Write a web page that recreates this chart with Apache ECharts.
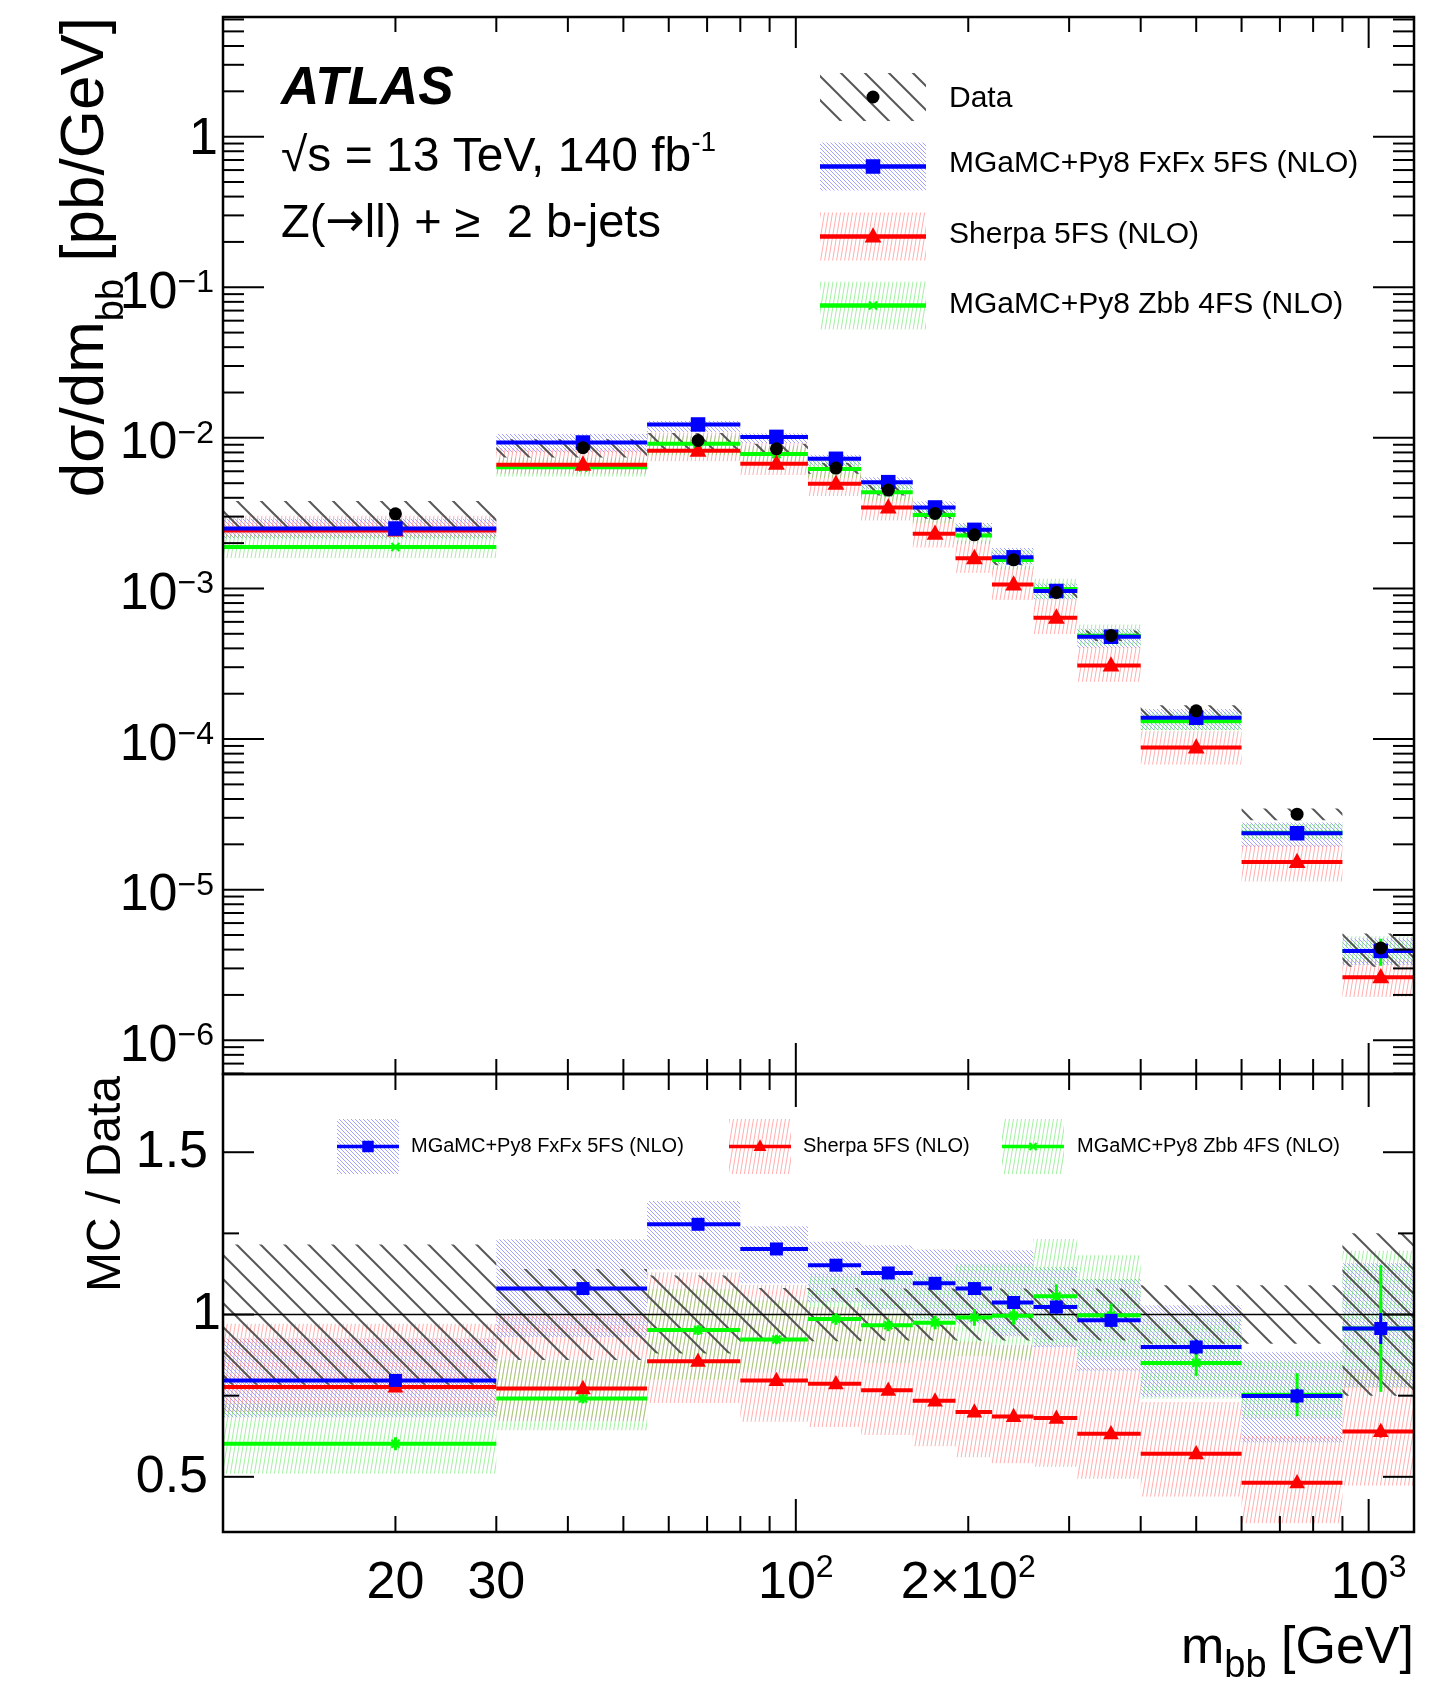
<!DOCTYPE html>
<html>
<head>
<meta charset="utf-8">
<title>Z(→ll) + ≥ 2 b-jets: dσ/dm_bb</title>
<script src="https://cdn.jsdelivr.net/npm/echarts@6/dist/echarts.min.js"></script>
<style>
  html, body { margin: 0; padding: 0; background: #ffffff; }
  #chart { width: 1450px; height: 1684px; }
</style>
</head>
<body>
<div id="chart"></div>
<script>
// ---------------- binning and measured / predicted values ----------------
const binEdges = [10, 30, 55, 80, 105, 130, 160, 190, 220, 260, 310, 400, 600, 900, 1200];

// Unfolded data, dσ/dm_bb [pb/GeV], with total relative uncertainty
const dataXsec   = [3.13e-3, 8.60e-3, 9.60e-3, 8.45e-3, 6.30e-3, 4.50e-3, 3.15e-3, 2.27e-3, 1.55e-3, 9.40e-4, 4.87e-4, 1.54e-4, 3.17e-5, 4.10e-6];
const dataRelUnc = [0.216, 0.14, 0.12, 0.082, 0.082, 0.08, 0.08, 0.08, 0.08, 0.08, 0.08, 0.09, 0.09, 0.25];

// MGaMC+Py8 FxFx 5FS (NLO)
const fxfxXsec  = [2.50e-3, 9.31e-3, 1.227e-2, 1.015e-2, 7.26e-3, 5.08e-3, 3.45e-3, 2.45e-3, 1.61e-3, 9.62e-4, 4.78e-4, 1.386e-4, 2.37e-5, 3.92e-6];
const fxfxRatio = [0.797, 1.080, 1.278, 1.202, 1.152, 1.128, 1.096, 1.080, 1.037, 1.023, 0.982, 0.900, 0.749, 0.957];
const fxfxUp    = [0.162, 0.141, 0.056, 0.058, 0.063, 0.076, 0.095, 0.110, 0.155, 0.120, 0.130, 0.143, 0.180, 0.210];
const fxfxDown  = [0.142, 0.138, 0.109, 0.088, 0.100, 0.100, 0.100, 0.100, 0.100, 0.120, 0.157, 0.170, 0.190, 0.190];
const fxfxStat  = [0.008, 0.008, 0.008, 0.008, 0.010, 0.010, 0.012, 0.015, 0.015, 0.020, 0.020, 0.025, 0.030, 0.050];

// Sherpa 5FS (NLO)
const sherpaXsec  = [2.43e-3, 6.64e-3, 8.22e-3, 6.74e-3, 4.96e-3, 3.45e-3, 2.31e-3, 1.59e-3, 1.063e-3, 6.40e-4, 3.08e-4, 8.79e-5, 1.528e-5, 2.62e-6];
const sherpaRatio = [0.777, 0.772, 0.856, 0.797, 0.787, 0.767, 0.734, 0.700, 0.686, 0.681, 0.633, 0.571, 0.482, 0.640];
const sherpaUp    = [0.25, 0.29, 0.32, 0.37, 0.30, 0.30, 0.31, 0.31, 0.32, 0.33, 0.32, 0.28, 0.30, 0.30];
const sherpaDown  = [0.10, 0.13, 0.15, 0.16, 0.17, 0.18, 0.19, 0.20, 0.21, 0.22, 0.22, 0.23, 0.26, 0.26];
const sherpaStat  = [0.004, 0.004, 0.004, 0.004, 0.005, 0.005, 0.006, 0.006, 0.007, 0.008, 0.010, 0.012, 0.020, 0.030];

// MGaMC+Py8 Zbb 4FS (NLO)
const zbbXsec  = [1.884e-3, 6.37e-3, 9.14e-3, 7.80e-3, 6.21e-3, 4.35e-3, 3.07e-3, 2.25e-3, 1.544e-3, 9.93e-4, 4.86e-4, 1.311e-4, 2.39e-5, 3.92e-6];
const zbbRatio = [0.602, 0.741, 0.952, 0.923, 0.986, 0.967, 0.975, 0.991, 0.996, 1.056, 0.998, 0.851, 0.753, 0.957];
const zbbUp    = [0.206, 0.159, 0.134, 0.131, 0.142, 0.150, 0.155, 0.167, 0.162, 0.167, 0.185, 0.160, 0.140, 0.250];
const zbbDown  = [0.153, 0.132, 0.160, 0.110, 0.124, 0.120, 0.120, 0.120, 0.138, 0.143, 0.140, 0.130, 0.100, 0.190];
const zbbStat  = [0.033, 0.020, 0.016, 0.016, 0.018, 0.019, 0.021, 0.026, 0.027, 0.035, 0.036, 0.047, 0.088, 0.204];

// Axis ticks and labels
const xMajorTicks = [100, 1000];
const xMinorTicks = [20, 30, 40, 50, 60, 70, 80, 90, 200, 300, 400, 500, 600, 700, 800, 900];
const xTickValues = [20, 30, 100, 200, 1000];
const xTickLabels = ['20', '30', '10^2', '2×10^2', '10^3'];
const yTickValues = [1e-6, 1e-5, 1e-4, 1e-3, 1e-2, 1e-1, 1];
const yTickLabels = ['10^−6', '10^−5', '10^−4', '10^−3', '10^−2', '10^−1', '1'];
const ratioMajorTicks = [0.5, 1, 1.5];
const ratioMinorTicks = [0.75, 1.25];
const ratioTickLabels = ['0.5', '1', '1.5'];

const legendLabels = ['Data', 'MGaMC+Py8 FxFx 5FS (NLO)', 'Sherpa 5FS (NLO)', 'MGaMC+Py8 Zbb 4FS (NLO)'];

// Axis ranges
const X_MIN = 10, X_MAX = 1200;
const Y_MIN = 5.97e-7, Y_MAX = 6.23;
const R_MIN = 0.33, R_MAX = 1.741;

// ---------------- styling helpers ----------------
const FONT = '"Liberation Sans", Arial, Helvetica, sans-serif';
const BLUE = '#0000ff', RED = '#ff0000', GREEN = '#00ff00', BLACK = '#000000';

function hatchPattern(w, h, color, width, segs) {
  const c = document.createElement('canvas');
  c.width = w; c.height = h;
  const g = c.getContext('2d');
  g.strokeStyle = color; g.lineWidth = width;
  g.beginPath();
  segs.forEach(s => { g.moveTo(s[0], s[1]); g.lineTo(s[2], s[3]); });
  g.stroke();
  return { image: c, repeat: 'repeat' };
}
// lines running from upper-left to lower-right
function backHatch(s, color, width) {
  const segs = [];
  [-s, 0, s].forEach(o => segs.push([-2, -2 + o, s + 2, s + 2 + o]));
  return hatchPattern(s, s, color, width, segs);
}
// almost vertical lines, leaning slightly right
function steepHatch(w, h, color, width) {
  const segs = [];
  [-w, 0, w].forEach(o => segs.push([o - 0.1 * w, h + 0.1 * h, o + 1.1 * w, -0.1 * h]));
  return hatchPattern(w, h, color, width, segs);
}

const dataFill   = backHatch(24, 'rgba(70,70,70,0.9)', 2);
const fxfxFill   = backHatch(4, 'rgba(90,90,255,0.55)', 1);
const sherpaFill = steepHatch(4, 24, 'rgba(255,110,110,0.55)', 1);
const zbbFill    = steepHatch(4, 24, 'rgba(70,225,70,0.5)', 1);

function marker(kind, x, y, s, color) {
  if (kind === 'square') {
    return { type: 'rect', shape: { x: x - s / 2, y: y - s / 2, width: s, height: s }, style: { fill: color } };
  }
  if (kind === 'triangle') {
    return { type: 'polygon', shape: { points: [[x, y - 0.62 * s], [x - 0.56 * s, y + 0.4 * s], [x + 0.56 * s, y + 0.4 * s]] }, style: { fill: color } };
  }
  if (kind === 'circle') {
    return { type: 'circle', shape: { cx: x, cy: y, r: s / 2 }, style: { fill: color } };
  }
  const h = s / 2;
  return { type: 'group', children: [
    { type: 'line', shape: { x1: x - h, y1: y - h, x2: x + h, y2: y + h }, style: { stroke: color, lineWidth: 2.2 } },
    { type: 'line', shape: { x1: x - h, y1: y + h, x2: x + h, y2: y - h }, style: { stroke: color, lineWidth: 2.2 } }
  ] };
}

function rectOf(cs) { return { x: cs.x, y: cs.y, width: cs.width, height: cs.height }; }

// hatched uncertainty band per bin: rows of [lo, hi, ylo, yhi]
function bandSeries(grid, rows, fill, z) {
  return {
    type: 'custom', xAxisIndex: grid, yAxisIndex: grid, z: z, silent: true,
    encode: { x: [0, 1], y: [2, 3] },
    data: rows,
    renderItem: function (params, api) {
      const p1 = api.coord([api.value(0), api.value(3)]);
      const p2 = api.coord([api.value(1), api.value(2)]);
      const r = echarts.graphic.clipRectByRect(
        { x: p1[0], y: p1[1], width: p2[0] - p1[0], height: p2[1] - p1[1] },
        rectOf(params.coordSys));
      return r && { type: 'rect', shape: r, style: { fill: fill } };
    }
  };
}

// horizontal bin line with a marker at the bin centre and a vertical stat bar
function stepSeries(grid, values, stat, color, kind, size, z) {
  const rows = values.map((v, i) => {
    const lo = binEdges[i], hi = binEdges[i + 1];
    return [lo, hi, (lo + hi) / 2, v, v * (1 - stat[i]), v * (1 + stat[i])];
  });
  return {
    type: 'custom', xAxisIndex: grid, yAxisIndex: grid, z: z, silent: true,
    encode: { x: [0, 1], y: 3 },
    data: rows,
    renderItem: function (params, api) {
      const a = api.coord([api.value(0), api.value(3)]);
      const b = api.coord([api.value(1), api.value(3)]);
      const c = api.coord([api.value(2), api.value(3)]);
      const e1 = api.coord([api.value(2), api.value(4)]);
      const e2 = api.coord([api.value(2), api.value(5)]);
      return { type: 'group', children: [
        { type: 'line', shape: { x1: a[0], y1: a[1], x2: b[0], y2: b[1] }, style: { stroke: color, lineWidth: 4 } },
        { type: 'line', shape: { x1: c[0], y1: e1[1], x2: c[0], y2: e2[1] }, style: { stroke: color, lineWidth: 3 } },
        marker(kind, c[0], c[1], size, color)
      ] };
    }
  };
}

function bandRows(values, up, down) {
  return values.map((v, i) => [binEdges[i], binEdges[i + 1], v * (1 - down[i]), v * (1 + up[i])]);
}

// ---------------- ticks ----------------
const yMinorTicks = [];
for (let e = -7; e <= 0; e++) {
  for (let k = 2; k <= 9; k++) {
    const v = k * Math.pow(10, e);
    if (v > Y_MIN && v < Y_MAX) yMinorTicks.push(v);
  }
}

function xTickSeries(grid, yRef, minorLen, majorLen) {
  const rows = xMinorTicks.map(v => [v, yRef, 0]).concat(xMajorTicks.map(v => [v, yRef, 1]));
  return {
    type: 'custom', xAxisIndex: grid, yAxisIndex: grid, z: 20, silent: true,
    encode: { x: 0, y: 1 }, data: rows,
    renderItem: function (params, api) {
      const cs = params.coordSys;
      const px = api.coord([api.value(0), api.value(1)])[0];
      const len = api.value(2) ? majorLen : minorLen;
      const st = { stroke: BLACK, lineWidth: 2 };
      return { type: 'group', children: [
        { type: 'line', shape: { x1: px, y1: cs.y, x2: px, y2: cs.y + len }, style: st },
        { type: 'line', shape: { x1: px, y1: cs.y + cs.height, x2: px, y2: cs.y + cs.height - len }, style: st }
      ] };
    }
  };
}

function yTickSeries(grid, minor, major, xRef, minorLen, majorLen) {
  const rows = minor.map(v => [xRef, v, 0]).concat(major.map(v => [xRef, v, 1]));
  return {
    type: 'custom', xAxisIndex: grid, yAxisIndex: grid, z: 20, silent: true,
    encode: { x: 0, y: 1 }, data: rows,
    renderItem: function (params, api) {
      const cs = params.coordSys;
      const py = api.coord([api.value(0), api.value(1)])[1];
      const len = api.value(2) ? majorLen : minorLen;
      const st = { stroke: BLACK, lineWidth: 2 };
      return { type: 'group', children: [
        { type: 'line', shape: { x1: cs.x, y1: py, x2: cs.x + len, y2: py }, style: st },
        { type: 'line', shape: { x1: cs.x + cs.width, y1: py, x2: cs.x + cs.width - len, y2: py }, style: st }
      ] };
    }
  };
}

function frameSeries(grid, yRef) {
  return {
    type: 'custom', xAxisIndex: grid, yAxisIndex: grid, z: 21, silent: true,
    encode: { x: 0, y: 1 }, data: [[X_MIN, yRef]],
    renderItem: function (params) {
      return { type: 'rect', shape: rectOf(params.coordSys), style: { fill: 'none', stroke: BLACK, lineWidth: 2.5 } };
    }
  };
}

function richLabel(label) {
  const k = label.indexOf('^');
  return k < 0 ? '{b|' + label + '}' : '{b|' + label.slice(0, k) + '}{s|' + label.slice(k + 1) + '}';
}

const yLabelRich = {
  b: { fontSize: 52, lineHeight: 52, fontFamily: FONT, fill: BLACK },
  s: { fontSize: 32, lineHeight: 32, fontFamily: FONT, fill: BLACK, verticalAlign: 'top' }
};
const xLabelRich = {
  b: { fontSize: 52, lineHeight: 63, fontFamily: FONT, fill: BLACK },
  s: { fontSize: 32, lineHeight: 32, fontFamily: FONT, fill: BLACK, verticalAlign: 'top' }
};

// y tick labels of the cross-section panel
const yLabelSeries = {
  type: 'custom', xAxisIndex: 0, yAxisIndex: 0, z: 22, silent: true,
  encode: { x: 0, y: 1 }, data: yTickValues.map((v, i) => [X_MIN, v, i]),
  renderItem: function (params, api) {
    const p = api.coord([api.value(0), api.value(1)]);
    const lab = yTickLabels[api.value(2)];
    const hasExp = lab.indexOf('^') >= 0;
    const dx = lab.length === 1 ? -5 : -9;
    return { type: 'text', x: p[0] + dx, y: p[1] + (hasExp ? 6.2 : 2.6),
      style: { text: richLabel(lab), rich: yLabelRich, align: 'right', verticalAlign: 'middle', textAlign: 'right', textVerticalAlign: 'middle' } };
  }
};

// y tick labels of the ratio panel
const ratioLabelSeries = {
  type: 'custom', xAxisIndex: 1, yAxisIndex: 1, z: 22, silent: true,
  encode: { x: 0, y: 1 }, data: ratioMajorTicks.map((v, i) => [X_MIN, v, i]),
  renderItem: function (params, api) {
    const p = api.coord([api.value(0), api.value(1)]);
    const lab = ratioTickLabels[api.value(2)];
    const dx = lab.length === 1 ? -2 : -15;
    return { type: 'text', x: p[0] + dx, y: p[1] + 0.6,
      style: { text: richLabel(lab), rich: yLabelRich, align: 'right', verticalAlign: 'middle', textAlign: 'right', textVerticalAlign: 'middle' } };
  }
};

// x tick labels under the ratio panel
const xLabelSeries = {
  type: 'custom', xAxisIndex: 1, yAxisIndex: 1, z: 22, silent: true,
  encode: { x: 0, y: 1 }, data: xTickValues.map((v, i) => [v, R_MIN, i]),
  renderItem: function (params, api) {
    const p = api.coord([api.value(0), api.value(1)]);
    return { type: 'text', x: p[0], y: p[1] + 51.6,
      style: { text: richLabel(xTickLabels[api.value(2)]), rich: xLabelRich, align: 'center', verticalAlign: 'middle', textAlign: 'center', textVerticalAlign: 'middle' } };
  }
};

// horizontal reference line at ratio = 1
const unityLine = {
  type: 'custom', xAxisIndex: 1, yAxisIndex: 1, z: 6, silent: true,
  encode: { x: [0, 1], y: 2 }, data: [[X_MIN, X_MAX, 1]],
  renderItem: function (params, api) {
    const a = api.coord([api.value(0), api.value(2)]);
    const b = api.coord([api.value(1), api.value(2)]);
    return { type: 'line', shape: { x1: a[0], y1: a[1], x2: b[0], y2: b[1] }, style: { stroke: BLACK, lineWidth: 1.6 } };
  }
};

// data points in the cross-section panel
const dataPoints = {
  type: 'custom', xAxisIndex: 0, yAxisIndex: 0, z: 12, silent: true,
  encode: { x: 0, y: 1 },
  data: dataXsec.map((v, i) => [(binEdges[i] + binEdges[i + 1]) / 2, v]),
  renderItem: function (params, api) {
    const c = api.coord([api.value(0), api.value(1)]);
    return marker('circle', c[0], c[1], 13, BLACK);
  }
};

const ones = dataXsec.map(() => 1);

const series = [
  // cross-section panel
  bandSeries(0, bandRows(fxfxXsec, fxfxUp, fxfxDown), fxfxFill, 2),
  bandSeries(0, bandRows(sherpaXsec, sherpaUp, sherpaDown), sherpaFill, 2),
  bandSeries(0, bandRows(zbbXsec, zbbUp, zbbDown), zbbFill, 2),
  bandSeries(0, bandRows(dataXsec, dataRelUnc, dataRelUnc), dataFill, 3),
  stepSeries(0, zbbXsec, zbbStat, GREEN, 'cross', 8, 7),
  stepSeries(0, sherpaXsec, sherpaStat, RED, 'triangle', 15, 8),
  stepSeries(0, fxfxXsec, fxfxStat, BLUE, 'square', 14.5, 9),
  dataPoints,
  // ratio panel
  bandSeries(1, bandRows(fxfxRatio, fxfxUp, fxfxDown), fxfxFill, 2),
  bandSeries(1, bandRows(sherpaRatio, sherpaUp, sherpaDown), sherpaFill, 2),
  bandSeries(1, bandRows(zbbRatio, zbbUp, zbbDown), zbbFill, 2),
  bandSeries(1, bandRows(ones, dataRelUnc, dataRelUnc), dataFill, 3),
  unityLine,
  stepSeries(1, zbbRatio, zbbStat, GREEN, 'cross', 8, 7),
  stepSeries(1, sherpaRatio, sherpaStat, RED, 'triangle', 14, 8),
  stepSeries(1, fxfxRatio, fxfxStat, BLUE, 'square', 13, 9),
  // axes decoration
  xTickSeries(0, 1e-3, 15, 31),
  yTickSeries(0, yMinorTicks, yTickValues, 100, 21, 41),
  xTickSeries(1, 1, 16, 33),
  yTickSeries(1, ratioMinorTicks, ratioMajorTicks, 100, 16, 31),
  frameSeries(0, 1e-3),
  frameSeries(1, 1),
  yLabelSeries,
  ratioLabelSeries,
  xLabelSeries
];

// ---------------- legends and annotations ----------------
const graphic = [];

// main legend
const legTop = { x: 820, w: 106, h: 48, rows: [97, 166.5, 236.5, 305.5], textX: 949, textY: [99, 164, 235, 305], mx: 873 };
const legFills = [dataFill, fxfxFill, sherpaFill, zbbFill];
const legColors = [BLACK, BLUE, RED, GREEN];
const legKinds = ['circle', 'square', 'triangle', 'cross'];
const legSizes = [13, 14.5, 15, 8];
legTop.rows.forEach((cy, i) => {
  graphic.push({ type: 'rect', shape: { x: legTop.x, y: cy - legTop.h / 2, width: legTop.w, height: legTop.h }, style: { fill: legFills[i] } });
  if (i > 0) {
    graphic.push({ type: 'line', shape: { x1: legTop.x, y1: cy, x2: legTop.x + legTop.w, y2: cy }, style: { stroke: legColors[i], lineWidth: 4.5 } });
  }
  graphic.push(marker(legKinds[i], legTop.mx, cy, legSizes[i], legColors[i]));
  graphic.push({ type: 'text', x: legTop.textX, y: legTop.textY[i],
    style: { text: legendLabels[i], fontSize: 30, fontFamily: FONT, fill: BLACK, align: 'left', verticalAlign: 'middle', textAlign: 'left', textVerticalAlign: 'middle' } });
});

// ratio-panel legend
const legRatio = { boxX: [337, 729, 1002], w: 62, h: 55, cy: 1146.5, textX: [411, 803, 1077] };
[1, 2, 3].forEach((k, j) => {
  const x0 = legRatio.boxX[j], cy = legRatio.cy;
  graphic.push({ type: 'rect', shape: { x: x0, y: cy - legRatio.h / 2, width: legRatio.w, height: legRatio.h }, style: { fill: legFills[k] } });
  graphic.push({ type: 'line', shape: { x1: x0, y1: cy, x2: x0 + legRatio.w, y2: cy }, style: { stroke: legColors[k], lineWidth: 3.5 } });
  graphic.push(marker(legKinds[k], x0 + legRatio.w / 2, cy, k === 3 ? 7 : 11.5, legColors[k]));
  graphic.push({ type: 'text', x: legRatio.textX[j], y: cy,
    style: { text: legendLabels[k], fontSize: 20, fontFamily: FONT, fill: BLACK, align: 'left', verticalAlign: 'middle', textAlign: 'left', textVerticalAlign: 'middle' } });
});

// experiment label
graphic.push({ type: 'text', x: 281, y: 88.9,
  style: { text: 'ATLAS', fontSize: 53, fontWeight: 'bold', fontStyle: 'italic', fontFamily: FONT, fill: BLACK, align: 'left', verticalAlign: 'middle', textAlign: 'left', textVerticalAlign: 'middle' } });
graphic.push({ type: 'text', x: 281, y: 157.4,
  style: { text: '{m|√s = 13 TeV, 140 fb}{s|-1}', align: 'left', verticalAlign: 'middle', textAlign: 'left', textVerticalAlign: 'middle',
    rich: { m: { fontSize: 48, lineHeight: 57, fontFamily: FONT, fill: BLACK }, s: { fontSize: 28, lineHeight: 28, fontFamily: FONT, fill: BLACK, verticalAlign: 'top' } } } });
graphic.push({ type: 'text', x: 281, y: 223.7,
  style: { text: '{m|Z(}{a|→}{m|ll) + ≥  2 b-jets}', align: 'left', verticalAlign: 'middle', textAlign: 'left', textVerticalAlign: 'middle',
    rich: { m: { fontSize: 47, lineHeight: 47, fontFamily: FONT, fill: BLACK }, a: { fontSize: 47, lineHeight: 47, fontFamily: '"DejaVu Sans", sans-serif', fill: BLACK } } } });

// axis titles
graphic.push({ type: 'text', x: 86, y: 17, rotation: Math.PI / 2,
  style: { text: '{m|dσ/dm}{s|bb}{m| [pb/GeV]}', align: 'right', verticalAlign: 'middle', textAlign: 'right', textVerticalAlign: 'middle',
    rich: { m: { fontSize: 62, lineHeight: 92, fontFamily: FONT, fill: BLACK }, s: { fontSize: 38, lineHeight: 38, fontFamily: FONT, fill: BLACK, verticalAlign: 'bottom' } } } });
graphic.push({ type: 'text', x: 107, y: 1076, rotation: Math.PI / 2,
  style: { text: 'MC / Data', fontSize: 48, fontFamily: FONT, fill: BLACK, align: 'right', verticalAlign: 'middle', textAlign: 'right', textVerticalAlign: 'middle' } });
graphic.push({ type: 'text', x: 1414, y: 1649,
  style: { text: '{m|m}{s|bb}{m| [GeV]}', align: 'right', verticalAlign: 'middle', textAlign: 'right', textVerticalAlign: 'middle',
    rich: { m: { fontSize: 52, lineHeight: 74, fontFamily: FONT, fill: BLACK }, s: { fontSize: 38, lineHeight: 38, fontFamily: FONT, fill: BLACK, verticalAlign: 'bottom' } } } });

// ---------------- chart ----------------
const hiddenAxis = { axisLine: { show: false }, axisTick: { show: false }, axisLabel: { show: false }, splitLine: { show: false } };

const option = {
  animation: false,
  backgroundColor: '#ffffff',
  grid: [
    { left: 223, top: 17, width: 1191, height: 1057 },
    { left: 223, top: 1074, width: 1191, height: 458 }
  ],
  xAxis: [
    Object.assign({ type: 'log', logBase: 10, gridIndex: 0, min: X_MIN, max: X_MAX }, hiddenAxis),
    Object.assign({ type: 'log', logBase: 10, gridIndex: 1, min: X_MIN, max: X_MAX }, hiddenAxis)
  ],
  yAxis: [
    Object.assign({ type: 'log', logBase: 10, gridIndex: 0, min: Y_MIN, max: Y_MAX }, hiddenAxis),
    Object.assign({ type: 'value', gridIndex: 1, min: R_MIN, max: R_MAX }, hiddenAxis)
  ],
  series: series,
  graphic: graphic
};

const chart = echarts.init(document.getElementById('chart'), null, { renderer: 'canvas', width: 1450, height: 1684 });
chart.setOption(option);
</script>
</body>
</html>
